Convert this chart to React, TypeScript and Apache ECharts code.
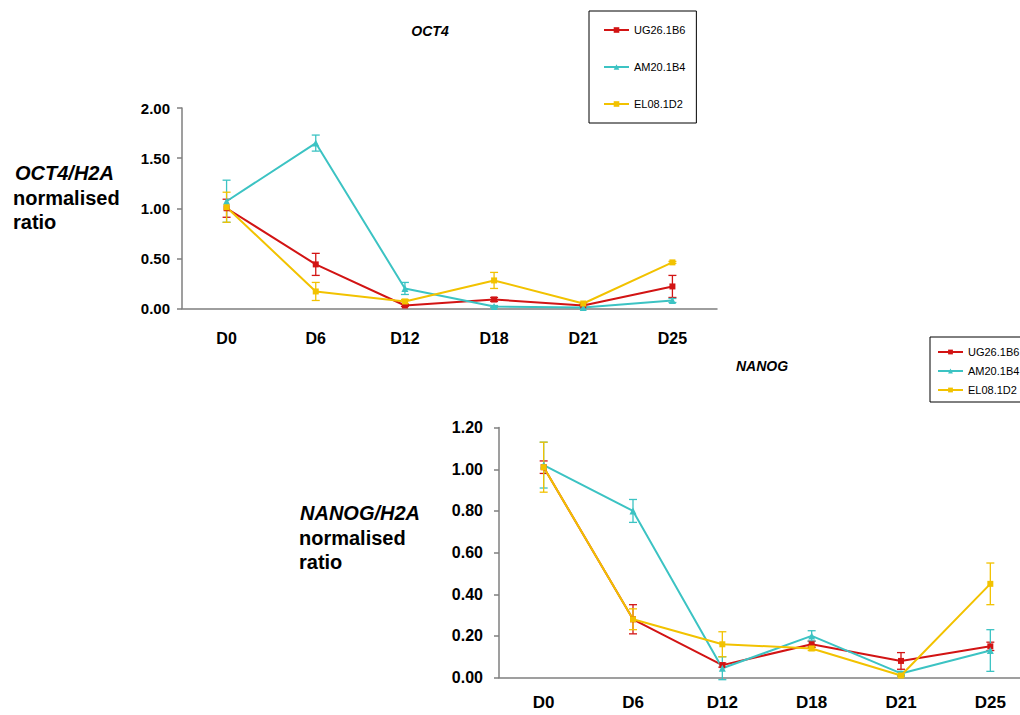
import React, { useEffect, useRef } from "react";
import * as echarts from "echarts";

// Time points (days of differentiation)
const categories = ["D0", "D6", "D12", "D18", "D21", "D25"];
const seriesNames = ["UG26.1B6", "AM20.1B4", "EL08.1D2"];
const seriesColors = ["#D21414", "#3CC3C3", "#F2C200"];
const seriesSymbols = ["rect", "triangle", "rect"];

// OCT4/H2A normalised ratio
const oct4UG = [1.0, 0.44, 0.03, 0.09, 0.03, 0.22];
const oct4UGErr = [0.09, 0.11, 0.01, 0.02, 0.01, 0.11];
const oct4AM = [1.07, 1.65, 0.2, 0.02, 0.01, 0.08];
const oct4AMErr = [0.21, 0.08, 0.06, 0.01, 0.01, 0.02];
const oct4EL = [1.01, 0.17, 0.07, 0.28, 0.05, 0.46];
const oct4ELErr = [0.15, 0.09, 0.02, 0.08, 0.01, 0.01];

// NANOG/H2A normalised ratio
const nanogUG = [1.01, 0.28, 0.06, 0.16, 0.08, 0.15];
const nanogUGErr = [0.03, 0.07, 0.01, 0.015, 0.04, 0.02];
const nanogAM = [1.02, 0.8, 0.045, 0.2, 0.02, 0.13];
const nanogAMErr = [0.11, 0.055, 0.055, 0.025, 0.01, 0.1];
const nanogEL = [1.01, 0.28, 0.16, 0.14, 0.01, 0.45];
const nanogELErr = [0.12, 0.05, 0.06, 0.01, 0.005, 0.1];

const FONT = "'Liberation Sans', Arial, sans-serif";
const AXIS_GREY = "#7f7f7f";

function errorData(values: number[], errs: number[]) {
  return values.map((v, i) => [i, v - errs[i], v + errs[i]]);
}

function errorSeries(values: number[], errs: number[], color: string, axisIndex: number) {
  return {
    type: "custom",
    xAxisIndex: axisIndex,
    yAxisIndex: axisIndex,
    silent: true,
    z: 3,
    data: errorData(values, errs),
    renderItem: (_params: any, api: any) => {
      const x = api.value(0);
      const lo = api.coord([x, api.value(1)]);
      const hi = api.coord([x, api.value(2)]);
      const cap = 4;
      const style = { stroke: color, lineWidth: 1.3 };
      return {
        type: "group",
        children: [
          { type: "line", shape: { x1: lo[0], y1: lo[1], x2: hi[0], y2: hi[1] }, style },
          { type: "line", shape: { x1: hi[0] - cap, y1: hi[1], x2: hi[0] + cap, y2: hi[1] }, style },
          { type: "line", shape: { x1: lo[0] - cap, y1: lo[1], x2: lo[0] + cap, y2: lo[1] }, style },
        ],
      };
    },
  };
}

function lineSeries(idx: number, values: number[], axisIndex: number) {
  return {
    type: "line",
    name: seriesNames[idx],
    xAxisIndex: axisIndex,
    yAxisIndex: axisIndex,
    data: values,
    color: seriesColors[idx],
    symbol: seriesSymbols[idx],
    symbolSize: seriesSymbols[idx] === "triangle" ? 7 : 6,
    lineStyle: { width: 2, color: seriesColors[idx] },
    itemStyle: { color: seriesColors[idx] },
    z: 4,
  };
}

export default function App() {
  const ref = useRef<HTMLDivElement>(null);

  useEffect(() => {
    if (!ref.current) return;
    const chart = echarts.init(ref.current, undefined, { renderer: "svg" });

    const yAxisBase = {
      type: "value",
      min: 0,
      axisLine: { show: true, lineStyle: { color: AXIS_GREY, width: 1.5 } },
      axisTick: { show: true, length: 5, lineStyle: { color: AXIS_GREY, width: 1.5 } },
      splitLine: { show: false },
    };

    const option: any = {
      animation: false,
      backgroundColor: "#ffffff",
      grid: [
        { left: 182, top: 108, width: 535, height: 200.5, outerBoundsMode: "none" },
        { left: 499, top: 427.6, width: 536, height: 250, outerBoundsMode: "none" },
      ],
      xAxis: [
        {
          type: "category",
          gridIndex: 0,
          data: categories,
          boundaryGap: true,
          axisLine: { lineStyle: { color: AXIS_GREY, width: 1.5 } },
          axisTick: { show: false },
          axisLabel: { margin: 22, color: "#000", fontFamily: FONT, fontWeight: "bold", fontSize: 16 },
        },
        {
          type: "category",
          gridIndex: 1,
          data: categories,
          boundaryGap: true,
          axisLine: { lineStyle: { color: AXIS_GREY, width: 1.5 } },
          axisTick: { show: false },
          axisLabel: { margin: 16, color: "#000", fontFamily: FONT, fontWeight: "bold", fontSize: 17 },
        },
      ],
      yAxis: [
        {
          ...yAxisBase,
          gridIndex: 0,
          max: 2,
          interval: 0.5,
          axisLabel: {
            margin: 12,
            color: "#000",
            fontFamily: FONT,
            fontWeight: "bold",
            fontSize: 15,
            formatter: (v: number) => v.toFixed(2),
          },
        },
        {
          ...yAxisBase,
          gridIndex: 1,
          max: 1.2,
          interval: 0.2,
          axisLabel: {
            margin: 16,
            color: "#000",
            fontFamily: FONT,
            fontWeight: "bold",
            fontSize: 16,
            formatter: (v: number) => v.toFixed(2),
          },
        },
      ],
      legend: [
        {
          data: seriesNames,
          orient: "vertical",
          left: 589,
          top: 11,
          padding: [13, 11, 13, 14],
          itemWidth: 25,
          itemHeight: 7,
          itemGap: 25,
          borderColor: "#000",
          borderWidth: 1,
          borderRadius: 0,
          textStyle: { fontFamily: FONT, fontSize: 11, lineHeight: 12, color: "#000" },
          selectedMode: false,
        },
        {
          data: seriesNames,
          orient: "vertical",
          left: 930,
          top: 337,
          padding: [9, 11, 6, 7],
          itemWidth: 25,
          itemHeight: 6,
          itemGap: 7,
          borderColor: "#000",
          borderWidth: 1,
          borderRadius: 0,
          textStyle: { fontFamily: FONT, fontSize: 11, lineHeight: 12, color: "#000" },
          selectedMode: false,
        },
      ],
      graphic: [
        {
          type: "text",
          x: 430,
          y: 31,
          style: {
            text: "OCT4",
            fontFamily: FONT,
            fontWeight: "bold",
            fontStyle: "italic",
            fontSize: 14,
            fill: "#000",
            textAlign: "center",
            textVerticalAlign: "middle",
          },
        },
        {
          type: "text",
          x: 762,
          y: 366,
          style: {
            text: "NANOG",
            fontFamily: FONT,
            fontWeight: "bold",
            fontStyle: "italic",
            fontSize: 14,
            fill: "#000",
            textAlign: "center",
            textVerticalAlign: "middle",
          },
        },
        {
          type: "text",
          x: 15,
          y: 173,
          style: { text: "OCT4/H2A", fontFamily: FONT, fontWeight: "bold", fontStyle: "italic", fontSize: 20, fill: "#000", textVerticalAlign: "middle" },
        },
        {
          type: "text",
          x: 13,
          y: 198,
          style: { text: "normalised", fontFamily: FONT, fontWeight: "bold", fontSize: 20, fill: "#000", textVerticalAlign: "middle" },
        },
        {
          type: "text",
          x: 13,
          y: 222,
          style: { text: "ratio", fontFamily: FONT, fontWeight: "bold", fontSize: 20, fill: "#000", textVerticalAlign: "middle" },
        },
        {
          type: "text",
          x: 300,
          y: 513,
          style: { text: "NANOG/H2A", fontFamily: FONT, fontWeight: "bold", fontStyle: "italic", fontSize: 20, fill: "#000", textVerticalAlign: "middle" },
        },
        {
          type: "text",
          x: 299,
          y: 538,
          style: { text: "normalised", fontFamily: FONT, fontWeight: "bold", fontSize: 20, fill: "#000", textVerticalAlign: "middle" },
        },
        {
          type: "text",
          x: 299,
          y: 562,
          style: { text: "ratio", fontFamily: FONT, fontWeight: "bold", fontSize: 20, fill: "#000", textVerticalAlign: "middle" },
        },
      ],
      series: [
        lineSeries(0, oct4UG, 0),
        lineSeries(1, oct4AM, 0),
        lineSeries(2, oct4EL, 0),
        lineSeries(0, nanogUG, 1),
        lineSeries(1, nanogAM, 1),
        lineSeries(2, nanogEL, 1),
        errorSeries(oct4UG, oct4UGErr, seriesColors[0], 0),
        errorSeries(oct4AM, oct4AMErr, seriesColors[1], 0),
        errorSeries(oct4EL, oct4ELErr, seriesColors[2], 0),
        errorSeries(nanogUG, nanogUGErr, seriesColors[0], 1),
        errorSeries(nanogAM, nanogAMErr, seriesColors[1], 1),
        errorSeries(nanogEL, nanogELErr, seriesColors[2], 1),
      ],
    };

    chart.setOption(option);
    return () => chart.dispose();
  }, []);

  return (
    <div
      ref={ref}
      style={{ position: "absolute", left: 0, top: 0, width: 1020, height: 715 }}
    />
  );
}
